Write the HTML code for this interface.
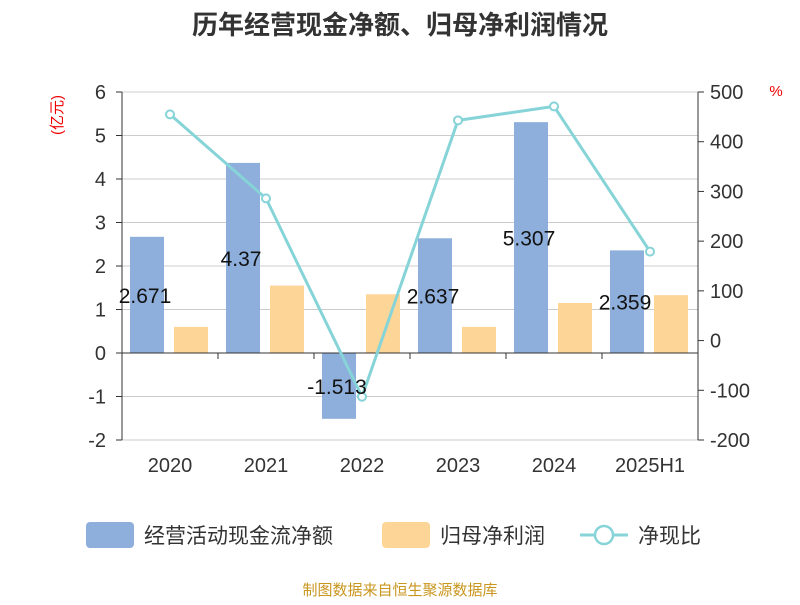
<!DOCTYPE html>
<html><head><meta charset="utf-8"><style>
body{margin:0;background:#fff;}
svg text{font-family:"Liberation Sans","Noto Sans CJK SC",sans-serif;}
</style></head><body>
<svg width="800" height="600" viewBox="0 0 800 600" id="c">
<text x="400" y="34" text-anchor="middle" font-size="26" font-weight="bold" fill="#333">历年经营现金净额、归母净利润情况</text>
<text x="62" y="115" font-size="15" fill="#e00" transform="rotate(-90 62 115)" text-anchor="middle">(亿元)</text>
<text x="776" y="96" font-size="15" fill="#e00" text-anchor="middle">%</text>
<g id="grid"></g><g id="bars"></g><g id="axes"></g><g id="line"></g><g id="labels"></g>
<g>
<rect x="86" y="522" width="48" height="26" rx="4" fill="#8eaedb"/>
<text x="144" y="543" font-size="21" fill="#333">经营活动现金流净额</text>
<rect x="382" y="522" width="48" height="26" rx="4" fill="#fdd597"/>
<text x="440" y="543" font-size="21" fill="#333">归母净利润</text>
<line x1="580" y1="535" x2="628" y2="535" stroke="#86d4d8" stroke-width="3"/>
<circle cx="604" cy="535" r="9" fill="#fff" stroke="#86d4d8" stroke-width="2.5"/>
<text x="638" y="543" font-size="21" fill="#333">净现比</text>
</g>
<text x="400" y="595" text-anchor="middle" font-size="15" fill="#c9961f">制图数据来自恒生聚源数据库</text>
</svg>
<script>
const categories=["2020","2021","2022","2023","2024","2025H1"];
const cashFlow=[2.671,4.37,-1.513,2.637,5.307,2.359];
const netProfit=[0.6,1.55,1.35,0.6,1.15,1.33];
const ratio=[455,286,-113,443,471,179];
const leftTicks=[-2,-1,0,1,2,3,4,5,6];
const rightTicks=[-200,-100,0,100,200,300,400,500];
const NS="http://www.w3.org/2000/svg";
const X0=122,X1=698,T=92,B=440;
const yL=v=>B-(v+2)/8*(B-T);
const yR=v=>B-(v+200)/700*(B-T);
const bw=(X1-X0)/categories.length;
const xc=i=>X0+bw*(i+0.5);
function mk(p,tag,a){const e=document.createElementNS(NS,tag);for(const k in a)e.setAttribute(k,a[k]);document.getElementById(p).appendChild(e);return e;}
leftTicks.forEach(t=>{
 const g=mk("grid","line",{x1:X0,x2:X1,y1:yL(t),y2:yL(t),stroke:"#ccc","stroke-width":1});
 
 
 const tx=mk("axes","text",{x:X0-16,y:yL(t)+7,"text-anchor":"end","font-size":20,fill:"#333"});tx.textContent=t;
 
 
 mk("axes","line",{x1:X0-6,x2:X0,y1:yL(t),y2:yL(t),stroke:"#333"});
});
rightTicks.forEach(t=>{
 const tx=mk("axes","text",{x:X1+12,y:yR(t)+7,"font-size":20,fill:"#333"});tx.textContent=t;
 
 
 mk("axes","line",{x1:X1,x2:X1+6,y1:yR(t),y2:yR(t),stroke:"#333"});
});
mk("axes","line",{x1:X0,x2:X0,y1:T,y2:B,stroke:"#333"});
mk("axes","line",{x1:X1,x2:X1,y1:T,y2:B,stroke:"#333"});
const z=mk("axes","line",{x1:X0,x2:X1,y1:yL(0),y2:yL(0),stroke:"#333"});


categories.forEach((c,i)=>{
 mk("axes","line",{x1:X0+bw*(i+1),x2:X0+bw*(i+1),y1:yL(0),y2:yL(0)+6,stroke:"#333"});
 const tx=mk("axes","text",{x:xc(i),y:472,"text-anchor":"middle","font-size":20,fill:"#333"});tx.textContent=c;
 
 
 const v=cashFlow[i],y0=yL(0),y1=yL(v);
 const b=mk("bars","rect",{x:xc(i)-40,y:Math.min(y0,y1),width:34,height:Math.abs(y1-y0),fill:"#8eaedb"});
 
 
 const p=netProfit[i],p1=yL(p);
 const b2=mk("bars","rect",{x:xc(i)+4,y:Math.min(y0,p1),width:34,height:Math.abs(p1-y0),fill:"#fdd597"});
 
 
 const l=mk("labels","text",{x:xc(i)-25,y:(y0+y1)/2+8,"text-anchor":"middle","font-size":21,fill:"#111"});l.textContent=v;
 
 
});
const pts=ratio.map((r,i)=>xc(i)+","+yR(r)).join(" ");
const pl=mk("line","polyline",{points:pts,fill:"none",stroke:"#86d4d8","stroke-width":3});


ratio.forEach((r,i)=>{
 const c=mk("line","circle",{cx:xc(i),cy:yR(r),r:4,fill:"#fff",stroke:"#86d4d8","stroke-width":2});
 
 
});
</script>
</body></html>
